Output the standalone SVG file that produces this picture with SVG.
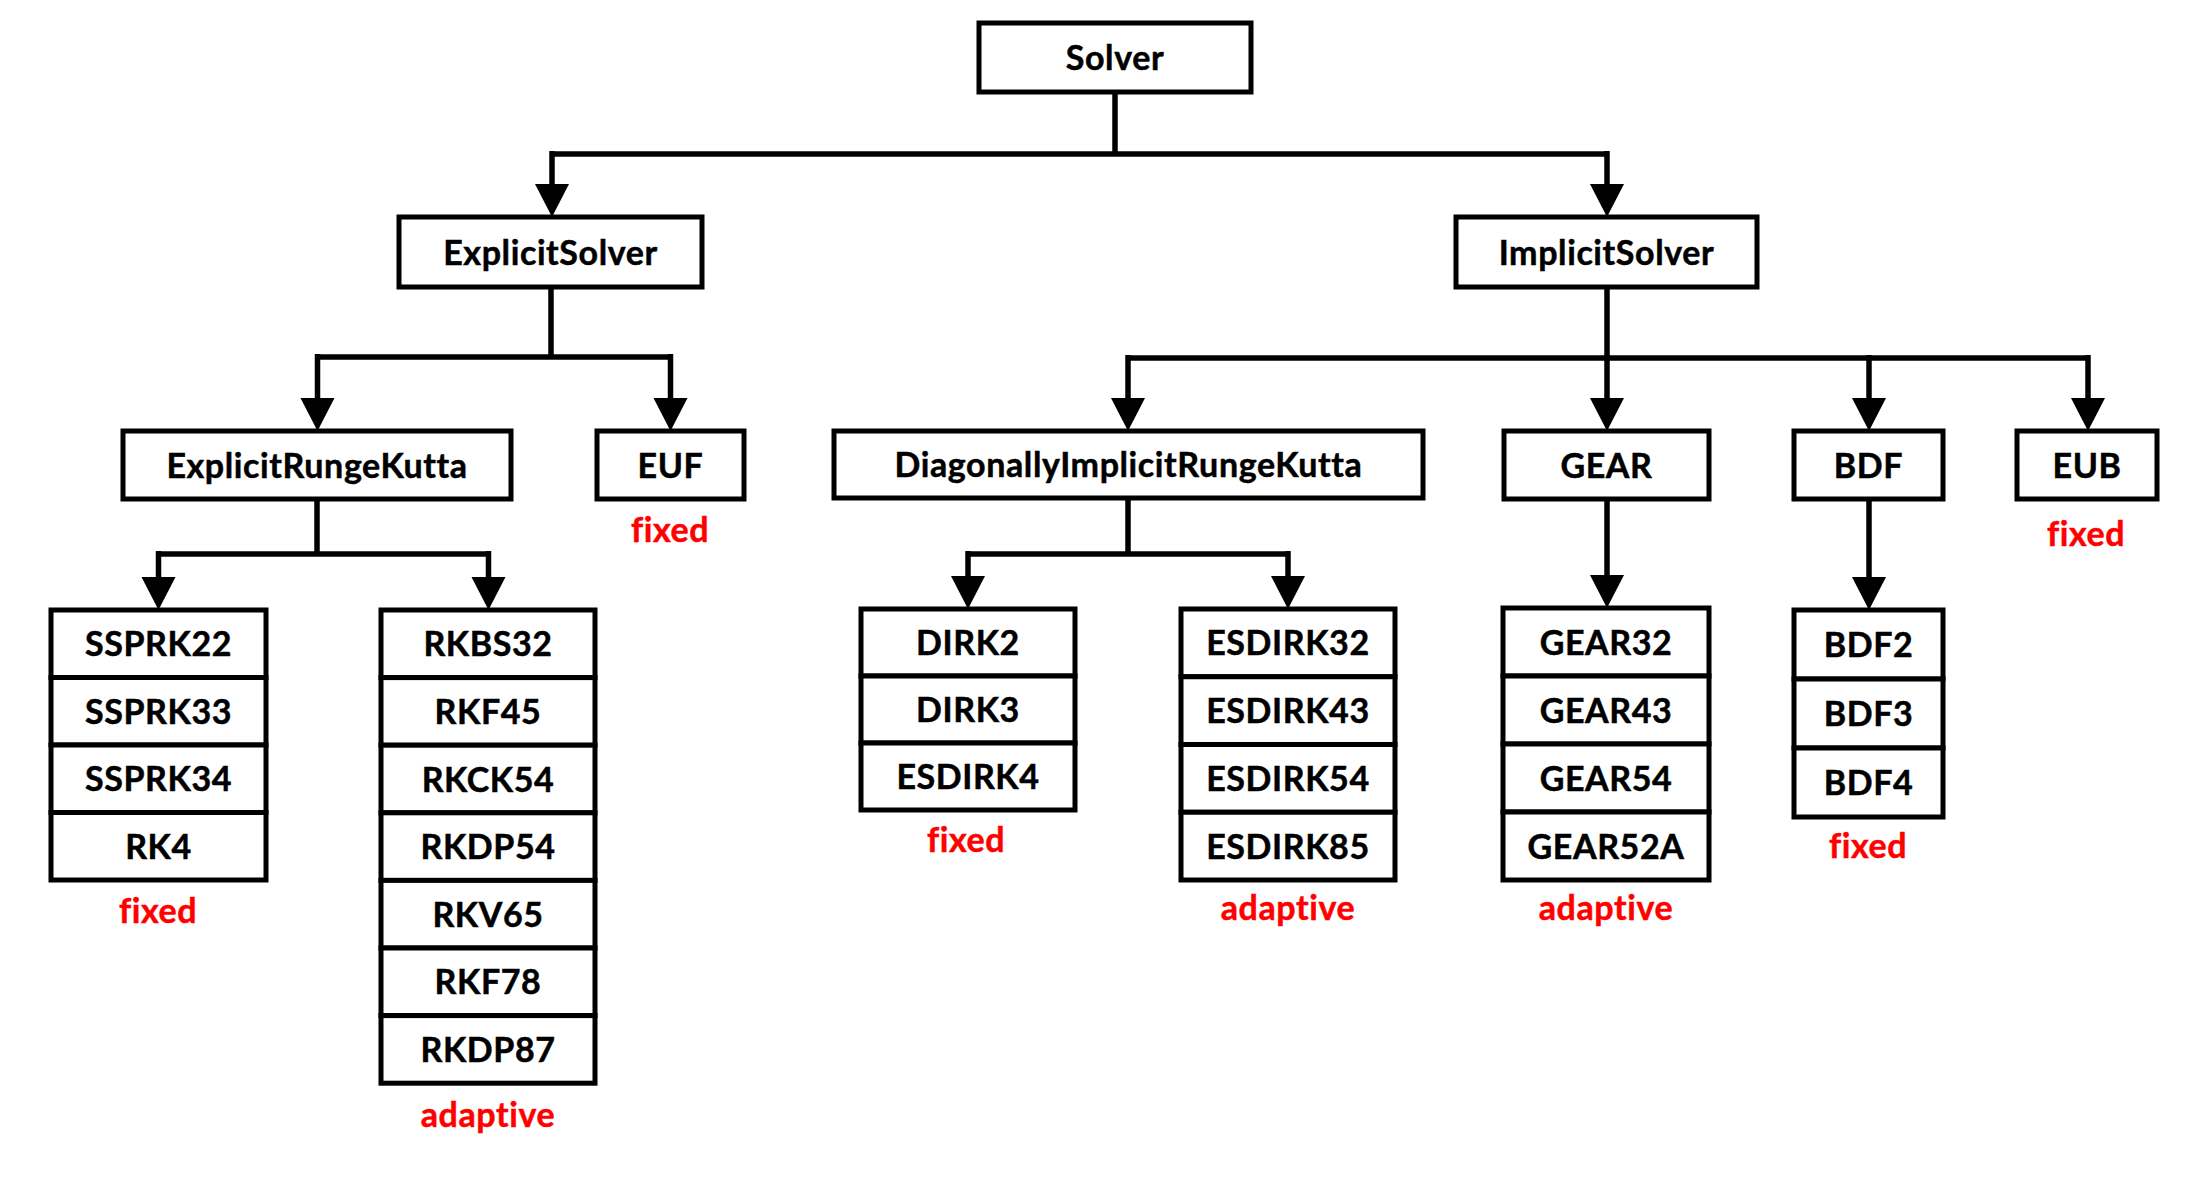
<svg xmlns="http://www.w3.org/2000/svg" width="2204" height="1184" viewBox="0 0 2204 1184">
<style>
.box{fill:#fff;stroke:#000;stroke-width:5}
.t{font-family:Lato,"Liberation Sans",sans-serif;font-weight:700;font-size:34px;letter-spacing:0.6px;fill:#000;stroke:#000;stroke-width:0.5;text-anchor:middle;font-variant-ligatures:none}
.r{font-family:Lato,"Liberation Sans",sans-serif;font-weight:700;font-size:34px;letter-spacing:0.6px;fill:#ff0000;stroke:#ff0000;stroke-width:0.5;text-anchor:middle;font-variant-ligatures:none}
.ln{fill:none;stroke:#000;stroke-width:5.5;stroke-linejoin:miter}
</style>
<rect width="2204" height="1184" fill="#fff"/>
<g id="connectors">
<polyline class="ln" points="1115,92 1115,154"/>
<polyline class="ln" points="552,154 1607,154"/>
<path class="ln" d="M552,151 V184" />
<polygon points="535,184 569,184 552,217" fill="#000"/>
<path class="ln" d="M1607,151 V184"/>
<polygon points="1590,184 1624,184 1607,217" fill="#000"/>

<polyline class="ln" points="551,287 551,357"/>
<polyline class="ln" points="317.5,357 670.5,357"/>
<path class="ln" d="M317.5,354 V398"/>
<polygon points="300.5,398 334.5,398 317.5,431" fill="#000"/>
<path class="ln" d="M670.5,354 V398"/>
<polygon points="653.5,398 687.5,398 670.5,431" fill="#000"/>

<polyline class="ln" points="317,499 317,554"/>
<polyline class="ln" points="158.5,554 488.5,554"/>
<path class="ln" d="M158.5,551 V577"/>
<polygon points="141.5,577 175.5,577 158.5,610" fill="#000"/>
<path class="ln" d="M488.5,551 V577"/>
<polygon points="471.5,577 505.5,577 488.5,610" fill="#000"/>

<polyline class="ln" points="1607,287 1607,358"/>
<polyline class="ln" points="1128,358 2088,358"/>
<path class="ln" d="M1128,355 V398"/>
<polygon points="1111,398 1145,398 1128,431" fill="#000"/>
<path class="ln" d="M1607,355 V398"/>
<polygon points="1590,398 1624,398 1607,431" fill="#000"/>
<path class="ln" d="M1869,355 V398"/>
<polygon points="1852,398 1886,398 1869,431" fill="#000"/>
<path class="ln" d="M2088,355 V398"/>
<polygon points="2071,398 2105,398 2088,431" fill="#000"/>

<polyline class="ln" points="1128,498 1128,554"/>
<polyline class="ln" points="968,554 1288,554"/>
<path class="ln" d="M968,551 V576"/>
<polygon points="951,576 985,576 968,609" fill="#000"/>
<path class="ln" d="M1288,551 V576"/>
<polygon points="1271,576 1305,576 1288,609" fill="#000"/>

<path class="ln" d="M1607,499 V575"/>
<polygon points="1590,575 1624,575 1607,608" fill="#000"/>
<path class="ln" d="M1869,499 V577"/>
<polygon points="1852,577 1886,577 1869,610" fill="#000"/>
</g>

<g id="Solver"><rect class="box" x="979" y="23" width="272" height="69"/><text class="t" x="1115" y="70">Solver</text></g>
<g id="ExplicitSolver"><rect class="box" x="399" y="217" width="303" height="70"/><text class="t" x="550.5" y="265">ExplicitSolver</text></g>
<g id="ImplicitSolver"><rect class="box" x="1456" y="217" width="301" height="70"/><text class="t" x="1606.5" y="265">ImplicitSolver</text></g>

<g id="ExplicitRungeKutta"><rect class="box" x="123" y="431" width="388" height="68"/><text class="t" x="317" y="478">ExplicitRungeKutta</text></g>
<g id="EUF"><rect class="box" x="597" y="431" width="147" height="68"/><text class="t" x="670.5" y="478">EUF</text><text class="r" x="670" y="542">fixed</text></g>
<g id="DiagonallyImplicitRungeKutta"><rect class="box" x="834" y="431" width="589" height="67"/><text class="t" x="1128.5" y="477">DiagonallyImplicitRungeKutta</text></g>
<g id="GEAR"><rect class="box" x="1504" y="431" width="205" height="68"/><text class="t" x="1606.5" y="478">GEAR</text></g>
<g id="BDF"><rect class="box" x="1794" y="431" width="149" height="68"/><text class="t" x="1868.5" y="478">BDF</text></g>
<g id="EUB"><rect class="box" x="2017" y="431" width="140" height="68"/><text class="t" x="2087" y="478">EUB</text><text class="r" x="2086" y="546">fixed</text></g>

<g id="SSPRK-list">
<rect class="box" x="51" y="610" width="215" height="67.5"/><text class="t" x="158.5" y="656.2">SSPRK22</text>
<rect class="box" x="51" y="677.5" width="215" height="67.5"/><text class="t" x="158.5" y="723.7">SSPRK33</text>
<rect class="box" x="51" y="745" width="215" height="67.5"/><text class="t" x="158.5" y="791.2">SSPRK34</text>
<rect class="box" x="51" y="812.5" width="215" height="67.5"/><text class="t" x="158.5" y="858.7">RK4</text>
<text class="r" x="158" y="923">fixed</text>
</g>

<g id="RK-list">
<rect class="box" x="381" y="610" width="214" height="67.6"/><text class="t" x="488" y="656.3">RKBS32</text>
<rect class="box" x="381" y="677.6" width="214" height="67.6"/><text class="t" x="488" y="723.9">RKF45</text>
<rect class="box" x="381" y="745.2" width="214" height="67.6"/><text class="t" x="488" y="791.5">RKCK54</text>
<rect class="box" x="381" y="812.8" width="214" height="67.6"/><text class="t" x="488" y="859.1">RKDP54</text>
<rect class="box" x="381" y="880.4" width="214" height="67.6"/><text class="t" x="488" y="926.7">RKV65</text>
<rect class="box" x="381" y="948" width="214" height="67.6"/><text class="t" x="488" y="994.3">RKF78</text>
<rect class="box" x="381" y="1015.6" width="214" height="67.6"/><text class="t" x="488" y="1061.9">RKDP87</text>
<text class="r" x="488" y="1127">adaptive</text>
</g>

<g id="DIRK-list">
<rect class="box" x="861" y="609" width="214" height="67"/><text class="t" x="968" y="655">DIRK2</text>
<rect class="box" x="861" y="676" width="214" height="67"/><text class="t" x="968" y="722">DIRK3</text>
<rect class="box" x="861" y="743" width="214" height="67"/><text class="t" x="968" y="789">ESDIRK4</text>
<text class="r" x="966" y="852">fixed</text>
</g>

<g id="ESDIRK-list">
<rect class="box" x="1181" y="609" width="214" height="67.75"/><text class="t" x="1288" y="655.4">ESDIRK32</text>
<rect class="box" x="1181" y="676.75" width="214" height="67.75"/><text class="t" x="1288" y="723.1">ESDIRK43</text>
<rect class="box" x="1181" y="744.5" width="214" height="67.75"/><text class="t" x="1288" y="790.9">ESDIRK54</text>
<rect class="box" x="1181" y="812.25" width="214" height="67.75"/><text class="t" x="1288" y="858.6">ESDIRK85</text>
<text class="r" x="1288" y="920">adaptive</text>
</g>

<g id="GEAR-list">
<rect class="box" x="1503" y="608" width="206" height="68"/><text class="t" x="1606" y="654.5">GEAR32</text>
<rect class="box" x="1503" y="676" width="206" height="68"/><text class="t" x="1606" y="722.5">GEAR43</text>
<rect class="box" x="1503" y="744" width="206" height="68"/><text class="t" x="1606" y="790.5">GEAR54</text>
<rect class="box" x="1503" y="812" width="206" height="68"/><text class="t" x="1606" y="858.5">GEAR52A</text>
<text class="r" x="1606" y="920">adaptive</text>
</g>

<g id="BDF-list">
<rect class="box" x="1794" y="610" width="149" height="69"/><text class="t" x="1868.5" y="657">BDF2</text>
<rect class="box" x="1794" y="679" width="149" height="69"/><text class="t" x="1868.5" y="726">BDF3</text>
<rect class="box" x="1794" y="748" width="149" height="69"/><text class="t" x="1868.5" y="795">BDF4</text>
<text class="r" x="1868" y="858">fixed</text>
</g>
</svg>
